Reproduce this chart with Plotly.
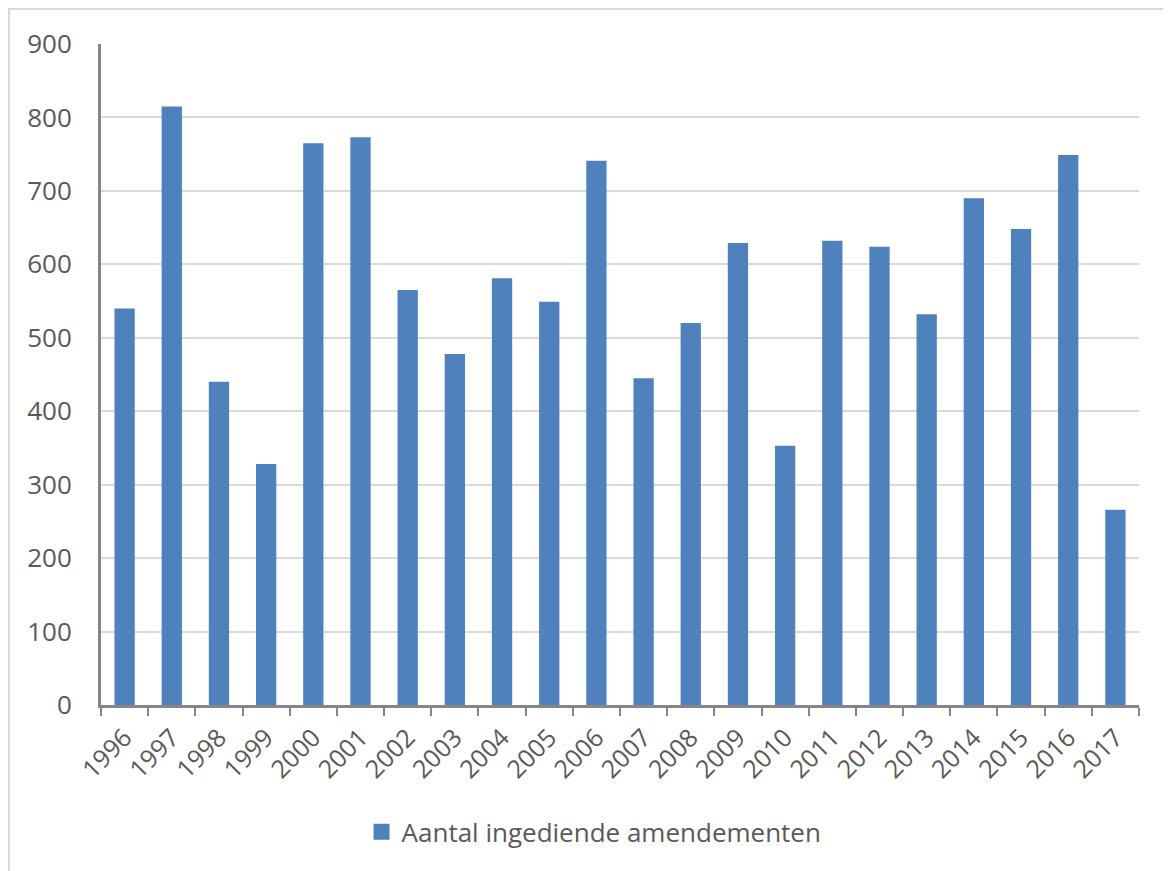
import plotly.graph_objects as go

years = [str(y) for y in range(1996, 2018)]
values = [540, 815, 440, 328, 765, 773, 565, 478, 581, 549, 741,
          445, 520, 629, 353, 632, 624, 532, 690, 648, 749, 266]
series_name = "Aantal ingediende amendementen"
y_ticks = list(range(0, 1000, 100))

FONT = "Open Sans"
GREY_TXT = "#595959"
BAR = "#4f81bd"

fig = go.Figure()
fig.add_trace(go.Bar(
    x=years, y=values, name=series_name,
    marker=dict(color=BAR, line=dict(width=0)),
    showlegend=False,
))
# legend entry with a larger square swatch
fig.add_trace(go.Scatter(
    x=[None], y=[None], mode="markers", name=series_name,
    marker=dict(symbol="square", size=16, color=BAR),
    showlegend=True,
))

# page body adds 8px offset
L, T = 93, 36
pw, ph = 1038, 661
W, H = 1171, 871
R, B = W - L - pw, H - T - ph

fig.update_layout(
    width=W, height=H,
    margin=dict(l=L, r=R, t=T, b=B),
    paper_bgcolor="white", plot_bgcolor="white",
    bargap=0.57,
    font=dict(family=FONT, color=GREY_TXT, size=22),
    legend=dict(orientation="h", x=0.475, xanchor="center", y=-0.192, yanchor="middle",
                font=dict(size=26, color=GREY_TXT), itemsizing="trace"),
    shapes=[dict(type="rect", xref="paper", yref="paper",
                 x0=(1 - L) / pw, x1=1.2, y0=-0.5, y1=1 + (T - 1) / ph,
                 line=dict(color="#d9d9d9", width=2), layer="below")],
)
fig.update_xaxes(
    type="category", tickangle=-45, tickson="boundaries", ticks="outside",
    ticklen=8, tickwidth=2, tickcolor="#868686",
    showline=True, linecolor="#868686", linewidth=3,
    tickfont=dict(size=25, color=GREY_TXT), showgrid=False,
    ticklabelstandoff=5,
)
fig.update_yaxes(
    range=[0, 900], tickvals=y_ticks, showgrid=True, gridcolor="#d9d9d9", gridwidth=2,
    showline=True, linecolor="#868686", linewidth=3, ticks="",
    tickfont=dict(size=26, color=GREY_TXT), ticklabelstandoff=21, zeroline=False,
)

fig.write_html("out.html")
